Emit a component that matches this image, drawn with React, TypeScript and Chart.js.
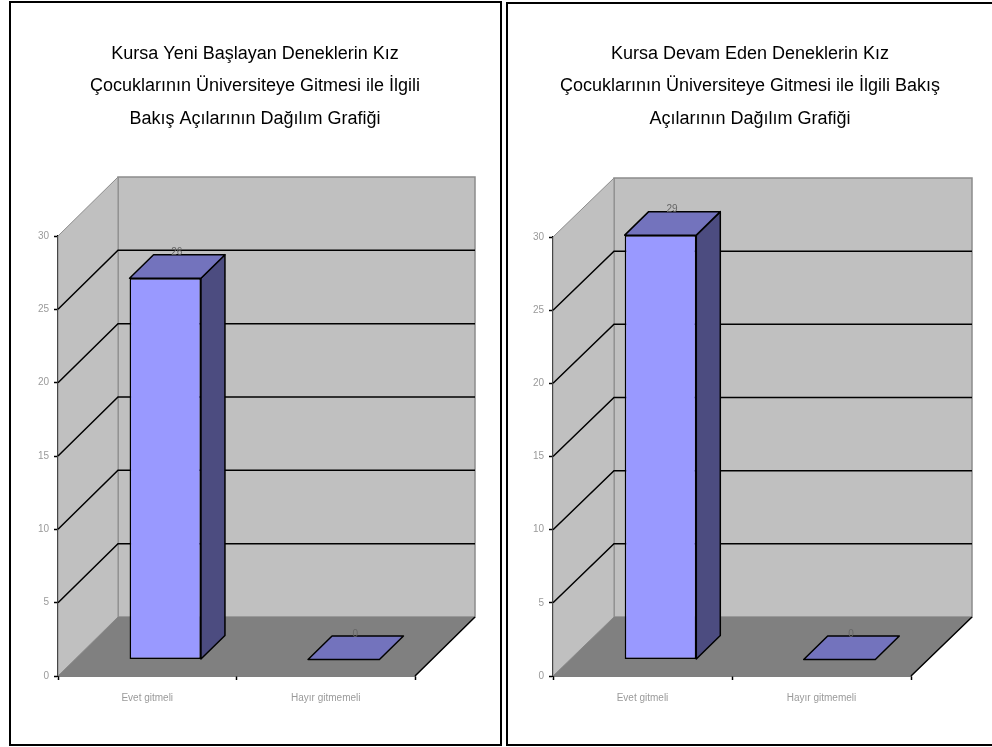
import React, { useEffect, useRef } from "react";
import { Chart, registerables, Plugin } from "chart.js";

Chart.register(...registerables);

// Survey answers shown in both panels
const categories = ["Evet gitmeli", "Hayır gitmemeli"];
const newStudentCounts = [26, 0];
const continuingStudentCounts = [29, 0];
const yTicks = [0, 5, 10, 15, 20, 25, 30];

const newStudentTitle = [
  "Kursa Yeni Başlayan Deneklerin Kız",
  "Çocuklarının Üniversiteye Gitmesi ile İlgili",
  "Bakış Açılarının Dağılım Grafiği",
];
const continuingStudentTitle = [
  "Kursa Devam Eden Deneklerin Kız",
  "Çocuklarının Üniversiteye Gitmesi ile İlgili Bakış",
  "Açılarının Dağılım Grafiği",
];

const WALL = "#c0c0c0";
const FLOOR = "#808080";
const EDGE = "#8c8c8c";
const FRONT = "#9999ff";
const TOP = "#7373bd";
const SIDE = "#4c4c80";
const FONT = '"Liberation Sans", Arial, sans-serif';
const TITLE_SIZE = 18;
const TITLE_LINE = 32.7;

type Depth = { wallX: number; wallY: number; barX: number; barY: number; barDepthX: number; barDepthY: number };
type TitleBox = { lines: string[]; centerX: number; firstBaseline: number };

function poly(ctx: CanvasRenderingContext2D, pts: number[][], fill?: string, stroke?: string, lw = 1) {
  ctx.beginPath();
  pts.forEach(([x, y], i) => (i ? ctx.lineTo(x, y) : ctx.moveTo(x, y)));
  ctx.closePath();
  if (fill) {
    ctx.fillStyle = fill;
    ctx.fill();
  }
  if (stroke) {
    ctx.strokeStyle = stroke;
    ctx.lineWidth = lw;
    ctx.stroke();
  }
}

// Oblique box: back wall, side wall, floor, gridlines and the extruded bar faces
function box3d(d: Depth, title: TitleBox): Plugin<"bar"> {
  return {
    id: "box3d",
    beforeDatasetsDraw(chart) {
      const { ctx, chartArea: a, scales } = chart;
      const y = scales.y;
      ctx.save();
      poly(ctx, [[a.left + d.wallX, a.top - d.wallY], [a.right + d.wallX, a.top - d.wallY], [a.right + d.wallX, a.bottom - d.wallY], [a.left + d.wallX, a.bottom - d.wallY]], WALL, EDGE, 1.5);
      poly(ctx, [[a.left, a.top], [a.left + d.wallX, a.top - d.wallY], [a.left + d.wallX, a.bottom - d.wallY], [a.left, a.bottom]], WALL, EDGE, 1);
      poly(ctx, [[a.left, a.bottom], [a.right, a.bottom], [a.right + d.wallX, a.bottom - d.wallY], [a.left + d.wallX, a.bottom - d.wallY]], FLOOR);
      ctx.strokeStyle = "#000";
      ctx.lineWidth = 1.5;
      ctx.beginPath();
      ctx.moveTo(a.right, a.bottom);
      ctx.lineTo(a.right + d.wallX, a.bottom - d.wallY);
      yTicks.slice(1, -1).forEach((t) => {
        const py = y.getPixelForValue(t);
        ctx.moveTo(a.left, py);
        ctx.lineTo(a.left + d.wallX, py - d.wallY);
        ctx.lineTo(a.right + d.wallX, py - d.wallY);
      });
      ctx.stroke();
      ctx.restore();
    },
    beforeDatasetDraw(chart, args) {
      const { ctx } = chart;
      ctx.save();
      ctx.translate(d.barX, -d.barY);
      ctx.lineJoin = "round";
      chart.getDatasetMeta(args.index).data.forEach((el) => {
        const { x, y, base, width } = el.getProps(["x", "y", "base", "width"], true) as any;
        const l = x - width / 2;
        const r = x + width / 2;
        const dx = d.barDepthX;
        const dy = d.barDepthY;
        if (base - y > 0.5) {
          poly(ctx, [[r, y], [r + dx, y - dy], [r + dx, base - dy], [r, base]], SIDE, "#000", 1.5);
        }
        poly(ctx, [[l, y], [l + dx, y - dy], [r + dx, y - dy], [r, y]], TOP, "#000", 1.5);
      });
    },
    afterDatasetDraw(chart) {
      chart.ctx.restore();
    },
    afterDatasetsDraw(chart) {
      const { ctx } = chart;
      const meta = chart.getDatasetMeta(0);
      const values = chart.data.datasets[0].data as number[];
      ctx.save();
      ctx.textAlign = "center";

      // Value captions sitting on the rear edge of each bar
      ctx.font = `10px ${FONT}`;
      ctx.fillStyle = "#666";
      ctx.textBaseline = "middle";
      meta.data.forEach((el, i) => {
        const { x, y } = el.getProps(["x", "y"], true) as any;
        ctx.fillText(String(values[i]), x + d.barX + d.barDepthX / 2 - 0.5, y - d.barY - d.barDepthY - 2);
      });

      // Centred three-line heading above the box
      ctx.font = `${TITLE_SIZE}px ${FONT}`;
      ctx.fillStyle = "#000";
      ctx.textBaseline = "alphabetic";
      title.lines.forEach((line, i) => {
        ctx.fillText(line, title.centerX, title.firstBaseline + i * TITLE_LINE);
      });
      ctx.restore();
    },
  };
}

type PanelProps = {
  title: TitleBox;
  values: number[];
  frame: { left: number; top: number; width: number; height: number };
  area: { left: number; top: number; right: number; bottom: number };
  depth: Depth;
};

function Panel({ title, values, frame, area, depth }: PanelProps) {
  const ref = useRef<HTMLCanvasElement>(null);
  useEffect(() => {
    const chart = new Chart(ref.current!, {
      type: "bar",
      data: {
        labels: categories,
        datasets: [
          {
            data: values,
            backgroundColor: FRONT,
            borderColor: "#000",
            borderWidth: 1.5,
            borderSkipped: false,
            barPercentage: 0.4,
            categoryPercentage: 1,
            clip: false as any,
          },
        ],
      },
      plugins: [box3d(depth, title)],
      options: {
        responsive: false,
        animation: false,
        layout: { padding: { left: 0, top: area.top, right: frame.width - area.right, bottom: 0 } },
        plugins: {
          legend: { display: false },
          tooltip: { enabled: false },
          title: { display: false },
        },
        scales: {
          x: {
            afterFit: (s: any) => {
              s.height = frame.height - area.bottom;
            },
            grid: { drawOnChartArea: false, drawTicks: true, tickLength: 4, tickColor: "#000", tickWidth: 1.5 },
            border: { color: "#000", width: 1.5 },
            ticks: { color: "#9a9a9a", font: { family: FONT, size: 10 }, padding: 12, maxRotation: 0 },
          },
          y: {
            min: 0,
            max: 30,
            afterFit: (s: any) => {
              s.width = area.left;
            },
            afterBuildTicks: (s: any) => {
              s.ticks = yTicks.map((value) => ({ value }));
            },
            grid: { drawOnChartArea: false, drawTicks: true, tickLength: 4, tickColor: "#000", tickWidth: 1.5 },
            border: { color: "#000", width: 1.5 },
            ticks: { color: "#9a9a9a", font: { family: FONT, size: 10 }, padding: 5 },
          },
        },
      },
    });
    return () => chart.destroy();
  }, []);
  return (
    <div
      style={{
        position: "absolute",
        left: frame.left,
        top: frame.top,
        width: frame.width,
        height: frame.height,
        outline: "2px solid #000",
        background: "#fff",
      }}
    >
      <canvas ref={ref} width={frame.width} height={frame.height} style={{ display: "block" }} />
    </div>
  );
}

export default function App() {
  return (
    <div style={{ position: "absolute", left: 0, top: 0, width: 992, height: 747, background: "#fff", overflow: "hidden" }}>
      <Panel
        title={{ lines: newStudentTitle, centerX: 244, firstBaseline: 55.5 }}
        values={newStudentCounts}
        frame={{ left: 11, top: 3, width: 489, height: 741 }}
        area={{ left: 47, top: 233, right: 404, bottom: 673 }}
        depth={{ wallX: 60, wallY: 59, barX: 18, barY: 16.5, barDepthX: 24, barDepthY: 23.5 }}
      />
      <Panel
        title={{ lines: continuingStudentTitle, centerX: 242, firstBaseline: 54.5 }}
        values={continuingStudentCounts}
        frame={{ left: 508, top: 4, width: 500, height: 740 }}
        area={{ left: 45, top: 233, right: 403, bottom: 672 }}
        depth={{ wallX: 61, wallY: 59, barX: 18, barY: 16.5, barDepthX: 24, barDepthY: 23.5 }}
      />
    </div>
  );
}
